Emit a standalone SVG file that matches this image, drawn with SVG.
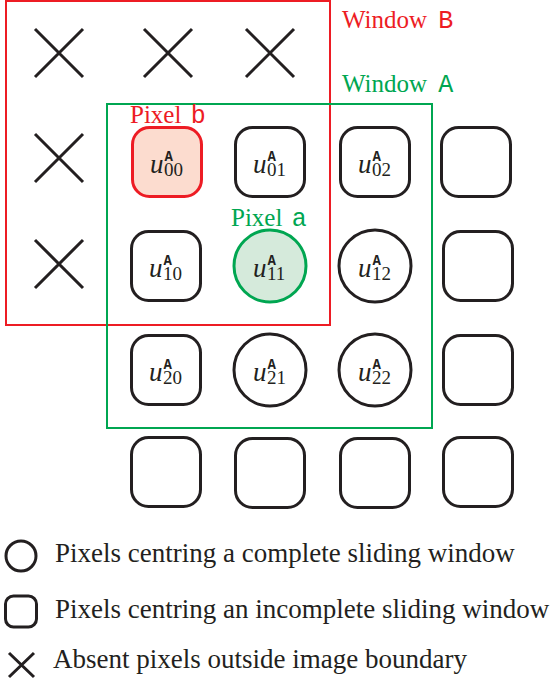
<svg xmlns="http://www.w3.org/2000/svg" width="554" height="683" viewBox="0 0 554 683">
<style>
.sq{fill:#fff;stroke:#231f20;stroke-width:3}
.ci{fill:#fff;stroke:#231f20;stroke-width:3}
.x{stroke:#231f20;stroke-width:3;fill:none}
.m{font-family:"Liberation Serif",serif;font-style:italic;font-size:27px;fill:#231f20}
.sp{font-family:"Liberation Mono",monospace;font-style:normal;font-weight:bold;font-size:14px}
.sb{font-family:"Liberation Serif",serif;font-style:normal;font-size:19px}
</style>
<defs>
<rect id="rs" x="-34.5" y="-34.5" width="69" height="69" rx="17"/>
<path id="xx" d="M-24,-24 L24,24 M24,-24 L-24,24"/>
</defs>
<g id="windowB"><rect x="6" y="1" width="324" height="324" fill="none" stroke="#ed1c24" stroke-width="2"/></g>
<g id="windowA"><rect x="107" y="104" width="325" height="324" fill="none" stroke="#00a651" stroke-width="2"/></g>
<g id="absent">
<use href="#xx" class="x" x="59" y="53"/>
<use href="#xx" class="x" x="168" y="53"/>
<use href="#xx" class="x" x="270" y="53"/>
<use href="#xx" class="x" x="59" y="158"/>
<use href="#xx" class="x" x="59" y="264"/>
</g>
<g id="p00"><use href="#rs" x="167" y="162" style="fill:#fcdccf;stroke:#ed1c24;stroke-width:3"/><text class="m" x="150" y="173">u<tspan class="sp" dx="1" dy="-12">A</tspan><tspan class="sb" dx="-9" dy="15">00</tspan></text></g>
<g id="p01"><use href="#rs" class="sq" x="270" y="162"/><text class="m" x="253" y="173">u<tspan class="sp" dx="1" dy="-12">A</tspan><tspan class="sb" dx="-9" dy="15">01</tspan></text></g>
<g id="p02"><use href="#rs" class="sq" x="375" y="162"/><text class="m" x="358" y="173">u<tspan class="sp" dx="1" dy="-12">A</tspan><tspan class="sb" dx="-9" dy="15">02</tspan></text></g>
<g id="p03"><use href="#rs" class="sq" x="476" y="162"/></g>
<g id="p10"><use href="#rs" class="sq" x="166" y="266"/><text class="m" x="149" y="277">u<tspan class="sp" dx="1" dy="-12">A</tspan><tspan class="sb" dx="-9" dy="15">10</tspan></text></g>
<g id="p11"><circle cx="270" cy="266" r="36" style="fill:#d5eadb;stroke:#00a651;stroke-width:3"/><text class="m" x="253" y="277">u<tspan class="sp" dx="1" dy="-12">A</tspan><tspan class="sb" dx="-9" dy="15">11</tspan></text></g>
<g id="p12"><circle class="ci" cx="375" cy="266" r="36"/><text class="m" x="358" y="277">u<tspan class="sp" dx="1" dy="-12">A</tspan><tspan class="sb" dx="-9" dy="15">12</tspan></text></g>
<g id="p13"><use href="#rs" class="sq" x="478" y="266"/></g>
<g id="p20"><use href="#rs" class="sq" x="166" y="370"/><text class="m" x="149" y="381">u<tspan class="sp" dx="1" dy="-12">A</tspan><tspan class="sb" dx="-9" dy="15">20</tspan></text></g>
<g id="p21"><circle class="ci" cx="270" cy="370" r="36"/><text class="m" x="253" y="381">u<tspan class="sp" dx="1" dy="-12">A</tspan><tspan class="sb" dx="-9" dy="15">21</tspan></text></g>
<g id="p22"><circle class="ci" cx="375" cy="370" r="36"/><text class="m" x="358" y="381">u<tspan class="sp" dx="1" dy="-12">A</tspan><tspan class="sb" dx="-9" dy="15">22</tspan></text></g>
<g id="p23"><use href="#rs" class="sq" x="478" y="370"/></g>
<g id="p30"><use href="#rs" class="sq" x="166" y="472"/></g>
<g id="p31"><use href="#rs" class="sq" x="270" y="473"/></g>
<g id="p32"><use href="#rs" class="sq" x="375" y="473"/></g>
<g id="p33"><use href="#rs" class="sq" x="478" y="472"/></g>
<g id="labels" font-family="Liberation Serif, serif" font-size="25">
<text fill="#ed1c24" x="342" y="28">Window <tspan dx="5" font-family="Liberation Mono, monospace">B</tspan></text>
<text fill="#00a651" x="342" y="92">Window <tspan dx="5" font-family="Liberation Mono, monospace">A</tspan></text>
<text fill="#ed1c24" x="130" y="123">Pixel <tspan dx="3" font-family="Liberation Mono, monospace">b</tspan></text>
<text fill="#00a651" x="231" y="226">Pixel <tspan dx="3" font-family="Liberation Mono, monospace">a</tspan></text>
</g>
<g id="legend" font-family="Liberation Serif, serif" font-size="27" fill="#231f20">
<circle cx="21" cy="556" r="15" fill="none" stroke="#231f20" stroke-width="3"/>
<text x="55" y="562">Pixels centring a complete sliding window</text>
<rect x="5.5" y="596" width="31" height="31" rx="8" fill="none" stroke="#231f20" stroke-width="3"/>
<text x="55" y="618">Pixels centring an incomplete sliding window</text>
<path d="M9,653 L34,677 M34,653 L9,677" fill="none" stroke="#231f20" stroke-width="3"/>
<text x="53" y="668">Absent pixels outside image boundary</text>
</g>
</svg>
